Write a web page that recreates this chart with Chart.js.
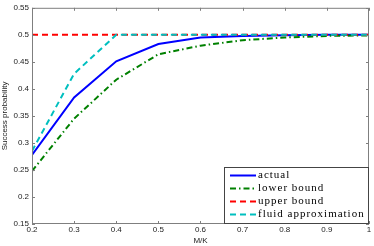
<!DOCTYPE html>
<html>
<head>
<meta charset="utf-8">
<script src="https://cdn.jsdelivr.net/npm/chart.js@4/dist/chart.umd.min.js"></script>
<style>
  html, body { margin: 0; padding: 0; background: #fff; }
  #wrap { width: 374px; height: 246px; }
</style>
</head>
<body>
<div id="wrap"><canvas id="chart" width="374" height="246"></canvas></div>
<script>
// data
const xValues = [0.2, 0.3, 0.4, 0.5, 0.6, 0.7, 0.8, 0.9, 1.0];
const actual = [0.278, 0.384, 0.451, 0.483, 0.495, 0.498, 0.499, 0.5, 0.5];
const lowerBound = [0.248, 0.345, 0.417, 0.464, 0.480, 0.490, 0.495, 0.498, 0.499];
const upperBound = [0.5, 0.5, 0.5, 0.5, 0.5, 0.5, 0.5, 0.5, 0.5];
const fluid = [0.285, 0.428, 0.5, 0.5, 0.5, 0.5, 0.5, 0.5, 0.5];

const xTicks = [0.2, 0.3, 0.4, 0.5, 0.6, 0.7, 0.8, 0.9, 1.0];
const xTickLabels = ['0.2', '0.3', '0.4', '0.5', '0.6', '0.7', '0.8', '0.9', '1'];
const yTicks = [0.15, 0.2, 0.25, 0.3, 0.35, 0.4, 0.45, 0.5, 0.55];
const yTickLabels = ['0.15', '0.2', '0.25', '0.3', '0.35', '0.4', '0.45', '0.5', '0.55'];

const seriesNames = ['actual', 'lower bound', 'upper bound', 'fluid approximation'];

const axisColor = '#7f7f7f';
const tickFont = { family: 'Liberation Sans', size: 8 };

function pts(ys) {
  return xValues.map((x, i) => ({ x: x, y: ys[i] }));
}

// frame with inward ticks on all four sides + legend box
const framePlugin = {
  id: 'frame',
  afterDraw(chart) {
    const ctx = chart.ctx;
    const a = chart.chartArea;
    const xs = chart.scales.x, ys = chart.scales.y;
    ctx.save();
    ctx.strokeStyle = axisColor;
    ctx.lineWidth = 1;
    ctx.setLineDash([]);
    ctx.strokeRect(a.left + 0.5, a.top + 0.5, a.right - a.left - 1, a.bottom - a.top - 1);
    ctx.beginPath();
    xTicks.forEach(v => {
      const px = Math.round(xs.getPixelForValue(v)) + 0.5;
      ctx.moveTo(px, a.bottom); ctx.lineTo(px, a.bottom - 3);
      ctx.moveTo(px, a.top); ctx.lineTo(px, a.top + 3);
    });
    yTicks.forEach(v => {
      const py = Math.round(ys.getPixelForValue(v)) + 0.5;
      ctx.moveTo(a.left, py); ctx.lineTo(a.left + 3, py);
      ctx.moveTo(a.right, py); ctx.lineTo(a.right - 3, py);
    });
    ctx.stroke();

    // legend
    const bx = 224, bw = a.right - bx, by = 167, bh = a.bottom - by;
    ctx.fillStyle = '#fff';
    ctx.fillRect(bx, by, bw, bh);
    ctx.strokeStyle = '#444';
    ctx.strokeRect(bx + 0.5, by + 0.5, bw - 1, bh - 1);
    ctx.font = '11px "Liberation Serif"';
    ctx.letterSpacing = '1px';
    ctx.textBaseline = 'middle';
    ctx.fillStyle = '#000';
    const rowY = [175, 188, 201, 214];
    chart.data.datasets.forEach((ds, i) => {
      const y = rowY[i] + 0.5;
      ctx.strokeStyle = ds.borderColor;
      ctx.lineWidth = ds.borderWidth;
      ctx.setLineDash(ds.borderDash || []);
      ctx.beginPath();
      ctx.moveTo(230, y); ctx.lineTo(256, y);
      ctx.stroke();
      ctx.setLineDash([]);
      ctx.fillText(ds.label, 258, rowY[i]);
    });
    ctx.restore();
  }
};

new Chart(document.getElementById('chart'), {
  type: 'line',
  data: {
    datasets: [
      { label: seriesNames[0], data: pts(actual), borderColor: '#0000ff', borderWidth: 2, order: 3 },
      { label: seriesNames[1], data: pts(lowerBound), borderColor: '#008000', borderWidth: 2, borderDash: [6, 3, 1.5, 3], order: 2 },
      { label: seriesNames[2], data: pts(upperBound), borderColor: '#ff0000', borderWidth: 2, borderDash: [6, 4], order: 1 },
      { label: seriesNames[3], data: pts(fluid), borderColor: '#00bfbf', borderWidth: 2, borderDash: [6, 4], order: 0 }
    ]
  },
  options: {
    responsive: false,
    animation: false,
    layout: { padding: { top: 7, right: 5, left: 0, bottom: 0 } },
    elements: { point: { radius: 0 }, line: { tension: 0, borderCapStyle: 'butt' } },
    plugins: { legend: { display: false }, tooltip: { enabled: false } },
    scales: {
      x: {
        type: 'linear',
        min: 0.2, max: 1.0,
        afterBuildTicks: s => { s.ticks = xTicks.map(v => ({ value: v })); },
        afterFit: s => { s.height = 22; },
        ticks: {
          color: '#222', font: tickFont, padding: 1, maxRotation: 0, autoSkip: false,
          callback: (v, i) => xTickLabels[i]
        },
        grid: { display: false, drawTicks: false },
        border: { display: false },
        title: { display: true, text: 'M/K', color: '#222', font: tickFont, padding: { top: 0, bottom: 0 } }
      },
      y: {
        min: 0.15, max: 0.55,
        afterBuildTicks: s => { s.ticks = yTicks.map(v => ({ value: v })); },
        afterFit: s => { s.width = 32; },
        ticks: {
          color: '#222', font: tickFont, padding: 3, autoSkip: false,
          callback: (v, i) => yTickLabels[i]
        },
        grid: { display: false, drawTicks: false },
        border: { display: false },
        title: { display: true, text: 'Success probability', color: '#222', font: tickFont, padding: { top: 0, bottom: 2 } }
      }
    }
  },
  plugins: [framePlugin]
});
</script>
</body>
</html>
